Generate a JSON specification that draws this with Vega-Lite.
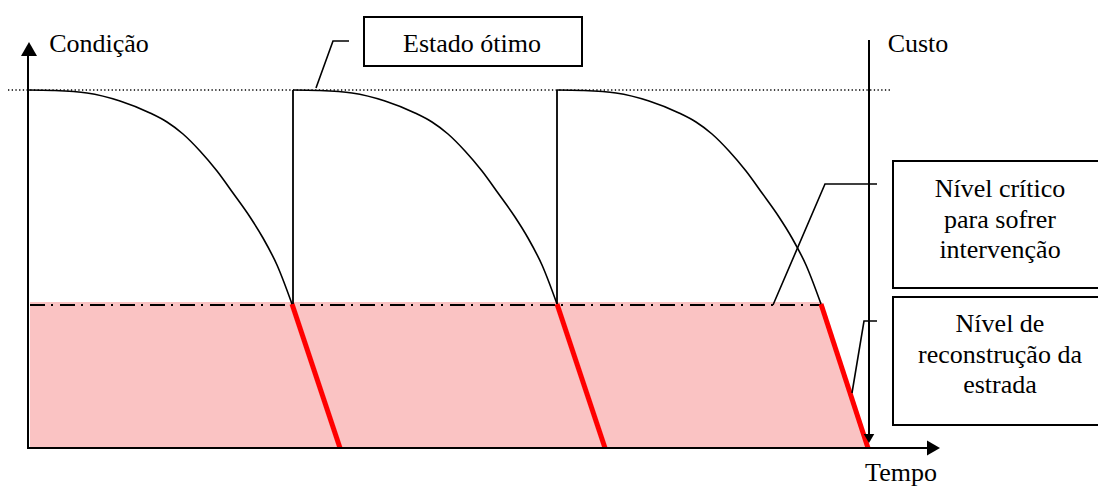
{
  "$schema": "https://vega.github.io/schema/vega-lite/v6.json",
  "width": 1098,
  "height": 486,
  "padding": 0,
  "autosize": {"type": "fit", "contains": "padding"},
  "background": "white",
  "config": {"view": {"stroke": null}},
  "datasets": {
    "fill": [
      {"x": 30, "y": 302, "y2": 448},
      {"x": 822, "y": 302, "y2": 448},
      {"x": 868, "y": 448, "y2": 448}
    ],
    "curves": [
      {"seg": 1, "x": 28, "y": 90}, {"seg": 1, "x": 53, "y": 90.5}, {"seg": 1, "x": 87, "y": 93}, {"seg": 1, "x": 120, "y": 101}, {"seg": 1, "x": 150, "y": 113}, {"seg": 1, "x": 167, "y": 122}, {"seg": 1, "x": 183, "y": 134}, {"seg": 1, "x": 200, "y": 151}, {"seg": 1, "x": 217, "y": 171}, {"seg": 1, "x": 233, "y": 193}, {"seg": 1, "x": 250, "y": 217}, {"seg": 1, "x": 263, "y": 238}, {"seg": 1, "x": 277, "y": 265}, {"seg": 1, "x": 292, "y": 304},
      {"seg": 2, "x": 293, "y": 90}, {"seg": 2, "x": 318, "y": 90.5}, {"seg": 2, "x": 352, "y": 93}, {"seg": 2, "x": 385, "y": 101}, {"seg": 2, "x": 415, "y": 113}, {"seg": 2, "x": 432, "y": 122}, {"seg": 2, "x": 448, "y": 134}, {"seg": 2, "x": 465, "y": 151}, {"seg": 2, "x": 482, "y": 171}, {"seg": 2, "x": 498, "y": 193}, {"seg": 2, "x": 515, "y": 217}, {"seg": 2, "x": 528, "y": 238}, {"seg": 2, "x": 542, "y": 265}, {"seg": 2, "x": 557, "y": 304},
      {"seg": 3, "x": 557, "y": 90}, {"seg": 3, "x": 582, "y": 90.5}, {"seg": 3, "x": 616, "y": 93}, {"seg": 3, "x": 649, "y": 101}, {"seg": 3, "x": 679, "y": 113}, {"seg": 3, "x": 696, "y": 122}, {"seg": 3, "x": 712, "y": 134}, {"seg": 3, "x": 729, "y": 151}, {"seg": 3, "x": 746, "y": 171}, {"seg": 3, "x": 762, "y": 193}, {"seg": 3, "x": 779, "y": 217}, {"seg": 3, "x": 792, "y": 238}, {"seg": 3, "x": 806, "y": 265}, {"seg": 3, "x": 821, "y": 304}
    ],
    "verticals": [
      {"x": 293, "x2": 293, "y": 90, "y2": 304},
      {"x": 557, "x2": 557, "y": 90, "y2": 304}
    ],
    "red": [
      {"x": 292, "y": 304, "x2": 340, "y2": 448},
      {"x": 557, "y": 304, "x2": 605, "y2": 448},
      {"x": 821, "y": 304, "x2": 868, "y2": 448}
    ],
    "axes": [
      {"x": 28, "x2": 28, "y": 52, "y2": 449},
      {"x": 28, "x2": 928, "y": 448, "y2": 448},
      {"x": 869, "x2": 869, "y": 40, "y2": 436}
    ],
    "optimum": [{"x": 8, "x2": 890, "y": 90, "y2": 90}],
    "critical": [{"x": 30, "x2": 822, "y": 305, "y2": 305}],
    "arrowUp": [{"x": 29, "y": 49}],
    "arrowRight": [{"x": 933.5, "y": 448}],
    "arrowDown": [{"x": 869, "y": 438.5}],
    "boxes": [
      {"x": 364, "x2": 582, "y": 17, "y2": 66},
      {"x": 893, "x2": 1110, "y": 161, "y2": 288},
      {"x": 893, "x2": 1110, "y": 297, "y2": 425}
    ],
    "leaders": [
      {"id": "a", "x": 316, "y": 88}, {"id": "a", "x": 333, "y": 41}, {"id": "a", "x": 349, "y": 41},
      {"id": "b", "x": 773, "y": 305}, {"id": "b", "x": 825, "y": 184}, {"id": "b", "x": 877, "y": 184},
      {"id": "c", "x": 852, "y": 393}, {"id": "c", "x": 864, "y": 321}, {"id": "c", "x": 877, "y": 321}
    ],
    "labels": [
      {"x": 99, "y": 52, "text": "Condição"},
      {"x": 918, "y": 52, "text": "Custo"},
      {"x": 472, "y": 52, "text": "Estado ótimo"},
      {"x": 901, "y": 481, "text": "Tempo"},
      {"x": 1000, "y": 197, "text": "Nível crítico"},
      {"x": 1000, "y": 228, "text": "para sofrer"},
      {"x": 1000, "y": 258, "text": "intervenção"},
      {"x": 1000, "y": 332, "text": "Nível de"},
      {"x": 1000, "y": 363, "text": "reconstrução da"},
      {"x": 1000, "y": 393, "text": "estrada"}
    ]
  },
  "layer": [
    {
      "data": {"name": "fill"},
      "mark": {"type": "area", "color": "#fac3c3", "opacity": 1},
      "encoding": {
        "x": {"field": "x", "type": "quantitative", "scale": {"domain": [0, 1098], "nice": false, "zero": false}, "axis": null},
        "y": {"field": "y", "type": "quantitative", "scale": {"domain": [0, 486], "reverse": true, "nice": false, "zero": false}, "axis": null},
        "y2": {"field": "y2"}
      }
    },
    {
      "data": {"name": "critical"},
      "mark": {"type": "rule", "color": "black", "strokeWidth": 2, "strokeDash": [15, 6, 2, 7]},
      "encoding": {
        "x": {"field": "x", "type": "quantitative"},
        "x2": {"field": "x2"},
        "y": {"field": "y", "type": "quantitative"},
        "y2": {"field": "y2"}
      }
    },
    {
      "data": {"name": "optimum"},
      "mark": {"type": "rule", "color": "black", "strokeWidth": 1.3, "strokeDash": [1.3, 2.4]},
      "encoding": {
        "x": {"field": "x", "type": "quantitative"},
        "x2": {"field": "x2"},
        "y": {"field": "y", "type": "quantitative"},
        "y2": {"field": "y2"}
      }
    },
    {
      "data": {"name": "red"},
      "mark": {"type": "rule", "color": "#ff0000", "strokeWidth": 5},
      "encoding": {
        "x": {"field": "x", "type": "quantitative"},
        "x2": {"field": "x2"},
        "y": {"field": "y", "type": "quantitative"},
        "y2": {"field": "y2"}
      }
    },
    {
      "data": {"name": "curves"},
      "mark": {"type": "line", "color": "black", "strokeWidth": 1.6, "interpolate": "monotone"},
      "encoding": {
        "x": {"field": "x", "type": "quantitative"},
        "y": {"field": "y", "type": "quantitative"},
        "detail": {"field": "seg", "type": "nominal"}
      }
    },
    {
      "data": {"name": "verticals"},
      "mark": {"type": "rule", "color": "black", "strokeWidth": 1.8},
      "encoding": {
        "x": {"field": "x", "type": "quantitative"},
        "x2": {"field": "x2"},
        "y": {"field": "y", "type": "quantitative"},
        "y2": {"field": "y2"}
      }
    },
    {
      "data": {"name": "axes"},
      "mark": {"type": "rule", "color": "black", "strokeWidth": 2},
      "encoding": {
        "x": {"field": "x", "type": "quantitative"},
        "x2": {"field": "x2"},
        "y": {"field": "y", "type": "quantitative"},
        "y2": {"field": "y2"}
      }
    },
    {
      "data": {"name": "arrowUp"},
      "mark": {"type": "point", "shape": "triangle-up", "size": 256, "filled": true, "color": "black", "opacity": 1},
      "encoding": {
        "x": {"field": "x", "type": "quantitative"},
        "y": {"field": "y", "type": "quantitative"}
      }
    },
    {
      "data": {"name": "arrowRight"},
      "mark": {"type": "point", "shape": "triangle-right", "size": 225, "filled": true, "color": "black", "opacity": 1},
      "encoding": {
        "x": {"field": "x", "type": "quantitative"},
        "y": {"field": "y", "type": "quantitative"}
      }
    },
    {
      "data": {"name": "arrowDown"},
      "mark": {"type": "point", "shape": "triangle-down", "size": 110, "filled": true, "color": "black", "opacity": 1},
      "encoding": {
        "x": {"field": "x", "type": "quantitative"},
        "y": {"field": "y", "type": "quantitative"}
      }
    },
    {
      "data": {"name": "leaders"},
      "mark": {"type": "line", "color": "black", "strokeWidth": 1.6},
      "encoding": {
        "x": {"field": "x", "type": "quantitative"},
        "y": {"field": "y", "type": "quantitative"},
        "detail": {"field": "id", "type": "nominal"}
      }
    },
    {
      "data": {"name": "boxes"},
      "mark": {"type": "rect", "fill": null, "fillOpacity": 0, "stroke": "black", "strokeWidth": 2, "clip": true},
      "encoding": {
        "x": {"field": "x", "type": "quantitative"},
        "x2": {"field": "x2"},
        "y": {"field": "y", "type": "quantitative"},
        "y2": {"field": "y2"}
      }
    },
    {
      "data": {"name": "labels"},
      "mark": {"type": "text", "font": "Liberation Serif, Times New Roman, DejaVu Serif, serif", "fontSize": 26, "color": "black", "align": "center", "baseline": "alphabetic", "clip": true},
      "encoding": {
        "x": {"field": "x", "type": "quantitative"},
        "y": {"field": "y", "type": "quantitative"},
        "text": {"field": "text", "type": "nominal"}
      }
    }
  ]
}
